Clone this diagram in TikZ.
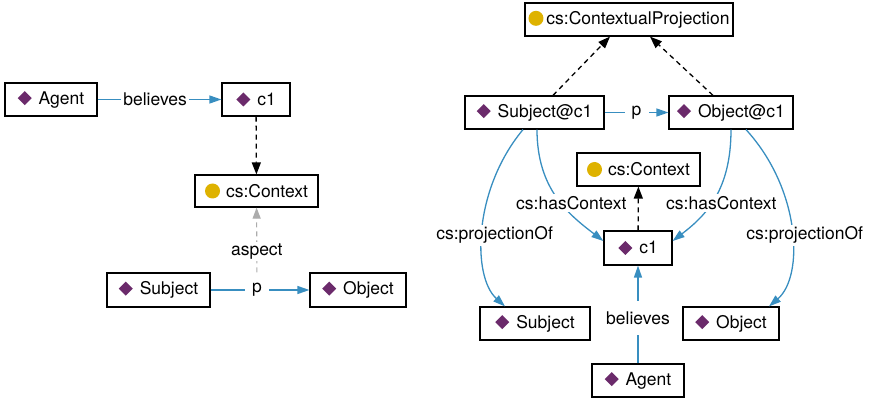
\documentclass[tikz,border=0pt]{standalone}
\usepackage{fontspec}
\setmainfont{TeX Gyre Heros}
\usetikzlibrary{arrows.meta}
\definecolor{instpurple}{RGB}{107,42,107}
\definecolor{classgold}{RGB}{222,178,0}
\definecolor{relblue}{RGB}{56,142,192}
\definecolor{aspectgray}{RGB}{172,172,172}
% small marks in front of instance and class names
\newcommand\instmark{\tikz[baseline={(0pt,-6pt)}]\fill[instpurple] (0pt,7pt)--(7pt,0pt)--(0pt,-7pt)--(-7pt,0pt)--cycle;}
\newcommand\classmark{\tikz[baseline={(0pt,-6pt)}]\fill[classgold] (0pt,0pt) circle (7.5pt);}
\begin{document}
\begin{tikzpicture}[x=1pt,y=-1pt,
  box/.style={draw=black, line width=1.2pt, minimum height=33pt, inner sep=0pt,
    fill=white, font=\fontsize{17.5}{20}\selectfont},
  lbl/.style={fill=white, inner sep=2pt, minimum width=24pt,
    font=\fontsize{17.5}{20}\selectfont},
  tall/.style={minimum height=34pt},
  rel/.style={draw=relblue, line width=1.3pt, -{Triangle[length=12pt,width=8pt,fill=relblue]}},
  typ/.style={draw=black, line width=1.3pt, dash pattern=on 5pt off 4pt,
    -{Triangle[length=12pt,width=9pt]}},
  asp/.style={draw=aspectgray, line width=1.1pt, dash pattern=on 5pt off 4pt,
    -{Triangle[length=11pt,width=8pt,fill=aspectgray]}}]
\useasboundingbox (0,0) rectangle (879,401);

% ---- statement view ----
\node[box, minimum width=92pt] (agentL) at (51,99.5) {\instmark\hspace{7pt}Agent};
\node[box, minimum width=68pt] (c1L) at (256,99.5) {\instmark\hspace{7pt}c1};
\node[box, minimum width=123pt, minimum height=32pt] (ctxL) at (256.5,191) {\classmark\hspace{6pt}cs:Context};
\node[box, minimum width=103pt, minimum height=34pt] (subjL) at (158.5,290) {\instmark\hspace{7pt}Subject};
\node[box, minimum width=96pt, minimum height=34pt] (objL) at (358,290) {\instmark\hspace{7pt}Object};

\draw[rel] (agentL) -- node[lbl, pos=0.465] {believes} (c1L);
\draw[typ] (c1L) -- (ctxL);
\draw[rel] (subjL) -- node[lbl, tall, pos=0.47] (pL) {p} (objL);
\draw[asp] (pL) -- node[lbl, pos=0.32] {aspect} (ctxL);

% ---- projected view ----
\node[box, minimum width=208pt] (cproj) at (629,19.5) {\classmark\hspace{3pt}cs:ContextualProjection};
\node[box, minimum width=139pt] (subjC) at (534.5,112.5) {\instmark\hspace{7pt}Subject@c1};
\node[box, minimum width=124pt] (objC) at (731,112.5) {\instmark\hspace{7pt}Object@c1};
\node[box, minimum width=123pt] (ctxR) at (638.5,169.5) {\classmark\hspace{6pt}cs:Context};
\node[box, minimum width=68pt, minimum height=34pt] (c1R) at (638,248) {\instmark\hspace{7pt}c1};
\node[box, minimum width=110pt] (subjR) at (535,323.5) {\instmark\hspace{7pt}Subject};
\node[box, minimum width=96pt] (objR) at (731,323.5) {\instmark\hspace{7pt}Object};
\node[box, minimum width=92pt] (agentR) at (638,380.5) {\instmark\hspace{7pt}Agent};

\draw[typ] ([xshift=18.5pt]subjC.north) -- ([xshift=-19pt]cproj.south);
\draw[typ] ([xshift=-18pt]objC.north) -- ([xshift=21pt]cproj.south);
\draw[rel] (subjC) -- node[lbl] {p} (objC);
\draw[typ] (c1R) -- (ctxR);
\draw[rel] (agentR) -- node[lbl, tall, pos=0.465] {believes} (c1R);

\draw[rel] ([xshift=-11.5pt]subjC.south) .. controls +(-50,60) and +(-33,-30) ..
  ([xshift=-30pt]subjR.north) node[lbl, pos=0.53, xshift=12pt] {cs:projectionOf};
\draw[rel] ([xshift=2.5pt]subjC.south) .. controls +(0,60) and +(-34,-26) ..
  ([yshift=7pt]c1R.west) node[lbl, pos=0.55, xshift=10pt] {cs:hasContext};
\draw[rel] (objC.south) .. controls +(0,60) and +(34,-26) ..
  ([yshift=7pt]c1R.east) node[lbl, pos=0.55, xshift=10pt] {cs:hasContext};
\draw[rel] ([xshift=15pt]objC.south) .. controls +(55,60) and +(35,-30) ..
  ([xshift=38pt]objR.north) node[lbl, pos=0.53, xshift=13pt] {cs:projectionOf};
\end{tikzpicture}
\end{document}
